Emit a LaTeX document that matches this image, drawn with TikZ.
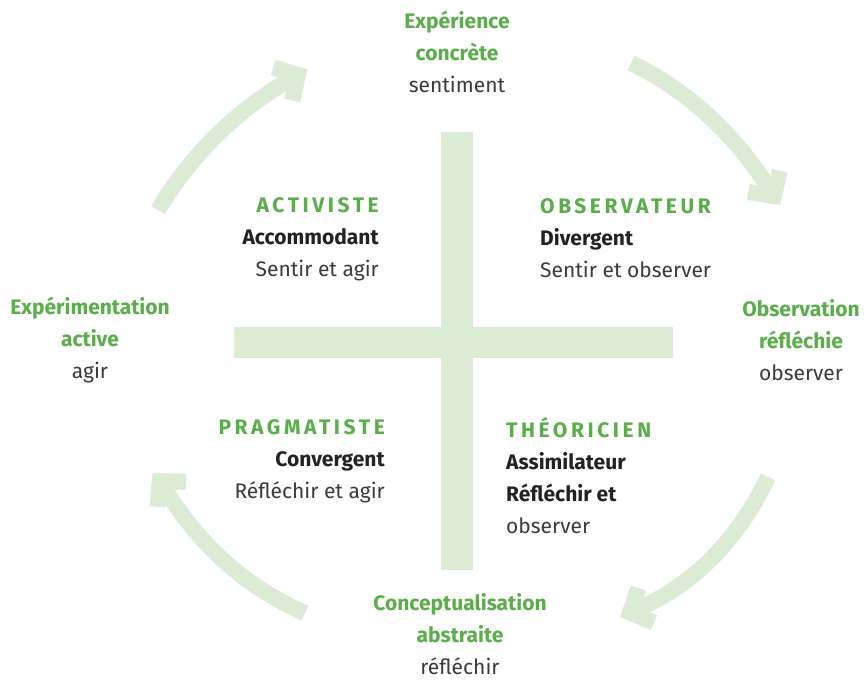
\documentclass[tikz,border=0pt]{standalone}
\usepackage{fontspec}
\setmainfont{Fira Sans}
\newfontfamily\headfont{Fira Sans}[LetterSpace=17]
\definecolor{kgreen}{HTML}{5AAE4A}
\definecolor{klight}{HTML}{DCEBD5}
\definecolor{kdark}{HTML}{222222}
\definecolor{ktext}{HTML}{3A3A3A}
\tikzset{
  txt/.style={inner sep=0pt, text=ktext, font=\fontsize{21}{32}\selectfont},
  cyc/.style={draw=klight, line width=16pt},
  chev/.style={draw=klight, line width=16pt, line join=miter},
  bar/.style={fill=klight, draw=none}
}
\newcommand{\gr}[1]{\textcolor{kgreen}{\textbf{#1}}}
\newcommand{\dk}[1]{\textcolor{kdark}{\textbf{#1}}}
\newcommand{\hd}[1]{\textcolor{kgreen}{\headfont\bfseries #1}}
\newcommand{\chevron}[2]{\draw[chev] ([shift={(#2+133:26)}]#1) -- (#1) -- ([shift={(#2+227:26)}]#1);}
\begin{document}
\begin{tikzpicture}[x=1pt,y=-1pt]
\useasboundingbox (0,0) rectangle (868,681);
\fill[white] (0,0) rectangle (868,681);
% cross
\fill[bar] (441,132) rectangle (473,570);
\fill[bar] (234,327) rectangle (673,358);
% cycle arrows
\coordinate (a1s) at (158,210); \coordinate (a1e) at (298,75);
\coordinate (a2s) at (631,63);  \coordinate (a2e) at (774,196);
\coordinate (a3s) at (768,477); \coordinate (a3e) at (630,612.5);
\coordinate (a4s) at (305,613); \coordinate (a4e) at (160,481);
\draw[cyc] (a1s) .. controls (192.7,152.3) and (239.3,107.3) .. (a1e);
\draw[cyc] (a2s) .. controls (688.7,90.7) and (736.3,135) .. (a2e);
\draw[cyc] (a3s) .. controls (736.7,542.5) and (690.7,587.7) .. (a3e);
\draw[cyc] (a4s) .. controls (244,586.3) and (195.7,542.3) .. (a4e);
\chevron{a1e}{-30}
\chevron{a2e}{56}
\chevron{a3e}{156}
\chevron{a4e}{229}
% stage labels
\node[txt, align=center] (top) at (457,52) {\gr{Expérience}\\\gr{concrète}\\sentiment};
\node[txt, align=center] (left) at (90,340) {\gr{Expérimentation}\\\gr{active}\\agir};
\node[txt, align=center] (right) at (801,340) {\gr{Observation}\\\gr{réfléchie}\\observer};
\node[txt, align=center] (bottom) at (460,634) {\gr{Conceptualisation}\\\gr{abstraite}\\réfléchir};
% quadrants
\node[txt, align=right, anchor=east] (q1) at (379,239) {\hd{ACTIVISTE}\\\dk{Accommodant}\\Sentir et agir};
\node[txt, align=left, anchor=west] (q2) at (540,238) {\hd{OBSERVATEUR}\\\dk{Divergent}\\Sentir et observer};
\node[txt, align=right, anchor=east] (q3) at (385,461) {\hd{PRAGMATISTE}\\\dk{Convergent}\\Réfléchir et agir};
\node[txt, align=left, anchor=west] (q4) at (506,476) {\hd{THÉORICIEN}\\\dk{Assimilateur}\\\dk{Réfléchir et}\\observer};
\end{tikzpicture}
\end{document}
